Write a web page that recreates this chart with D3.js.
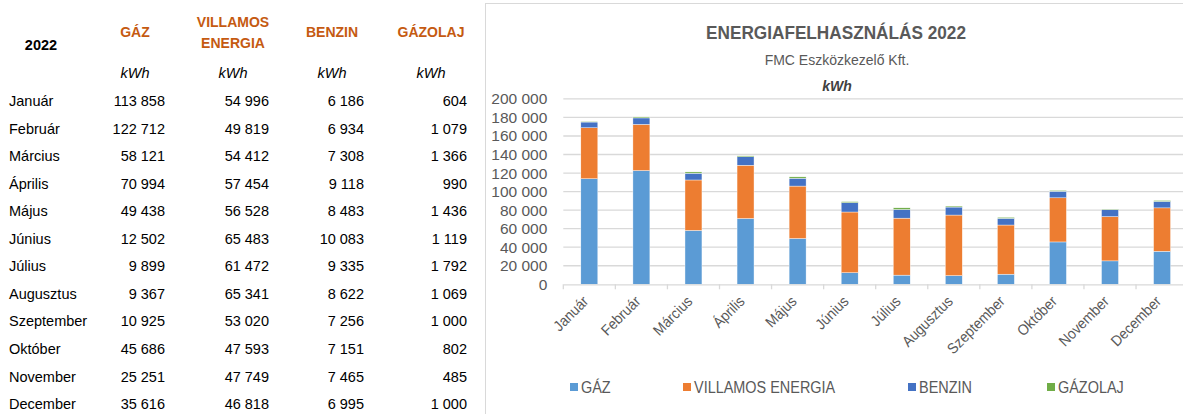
<!DOCTYPE html>
<html>
<head>
<meta charset="utf-8">
<script src="https://cdn.jsdelivr.net/npm/d3@7"></script>
<style>
  body { margin: 0; background: #fff; overflow: hidden; }
  svg { display: block; }
</style>
</head>
<body>
<div id="chart"></div>
<script>
const months = ["Január", "Február", "Március", "Április", "Május", "Június",
  "Július", "Augusztus", "Szeptember", "Október", "November", "December"];
const gaz = [113858, 122712, 58121, 70994, 49438, 12502, 9899, 9367, 10925, 45686, 25251, 35616];
const villamos = [54996, 49819, 54412, 57454, 56528, 65483, 61472, 65341, 53020, 47593, 47749, 46818];
const benzin = [6186, 6934, 7308, 9118, 8483, 10083, 9335, 8622, 7256, 7151, 7465, 6995];
const gazolaj = [604, 1079, 1366, 990, 1436, 1119, 1792, 1069, 1000, 802, 485, 1000];
const seriesNames = ["GÁZ", "VILLAMOS ENERGIA", "BENZIN", "GÁZOLAJ"];
const headerLines = [["GÁZ"], ["VILLAMOS", "ENERGIA"], ["BENZIN"], ["GÁZOLAJ"]];
const colors = ["#5B9BD5", "#ED7D31", "#4472C4", "#70AD47"];
const yTicks = [0, 20000, 40000, 60000, 80000, 100000, 120000, 140000, 160000, 180000, 200000];

const W = 1183, H = 414;
const fmt = d3.formatLocale({decimal: ",", thousands: " ", grouping: [3], currency: ["", ""]}).format(",d");
const sans = "'Liberation Sans', Arial, sans-serif";

const svg = d3.select("#chart").append("svg").attr("width", W).attr("height", H);

// ---------- table on the left ----------
const table = svg.append("g").style("font-family", sans);
const colCenter = [135, 233, 332, 431];
const colRight = [165, 269, 364, 467];
const rowY = d3.scaleLinear().domain([0, 11]).range([101, 404]);
const columns = [gaz, villamos, benzin, gazolaj];

table.append("text").attr("x", 41).attr("y", 45).attr("dy", "0.35em")
  .attr("text-anchor", "middle").attr("font-weight", "bold").attr("font-size", 14.5)
  .attr("fill", "#000").text("2022");

headerLines.forEach((lines, i) => {
  const y0 = lines.length > 1 ? 22 : 32;
  lines.forEach((l, j) => {
    table.append("text").attr("x", colCenter[i]).attr("y", y0 + j * 21).attr("dy", "0.35em")
      .attr("text-anchor", "middle").attr("font-weight", "bold").attr("font-size", 14)
      .attr("fill", "#C55A11").text(l);
  });
  table.append("text").attr("x", colCenter[i]).attr("y", 73).attr("dy", "0.35em")
    .attr("text-anchor", "middle").attr("font-style", "italic").attr("font-size", 14.5)
    .attr("fill", "#000").text("kWh");
});

months.forEach((m, r) => {
  table.append("text").attr("x", 9).attr("y", rowY(r)).attr("dy", "0.35em")
    .attr("font-size", 14.5).attr("fill", "#000").text(m);
  columns.forEach((col, c) => {
    table.append("text").attr("x", colRight[c]).attr("y", rowY(r)).attr("dy", "0.35em")
      .attr("text-anchor", "end").attr("font-size", 14.5).attr("fill", "#000").text(fmt(col[r]));
  });
});

// ---------- chart on the right ----------
const chart = svg.append("g");
chart.append("rect").attr("x", 485.5).attr("y", 3.5).attr("width", 720).attr("height", 440)
  .attr("fill", "#fff").attr("stroke", "#d9d9d9").attr("stroke-width", 1);

const x = d3.scaleBand().domain(months).range([563.3, 1188.1]).paddingInner(0.674).paddingOuter(0.337);
const y = d3.scaleLinear().domain([0, 200000]).range([284.3, 98.9]);

const textCol = "#595959";
// condensed text (no narrow font installed, so squeeze horizontally)
function narrowText(g, tx, ty, size, sx, anchor, str) {
  return g.append("text").attr("transform", `translate(${tx},${ty}) scale(${sx},1)`)
    .attr("dy", "0.35em").attr("text-anchor", anchor).style("font-family", sans)
    .attr("font-size", size).attr("fill", textCol).text(str);
}
narrowText(chart, 836, 33, 18.5, 0.93, "middle", "ENERGIAFELHASZNÁLÁS 2022").attr("font-weight", "bold");
narrowText(chart, 837, 60, 14, 1, "middle", "FMC Eszközkezelő Kft.");
chart.append("text").attr("x", 837).attr("y", 86).attr("dy", "0.35em").attr("text-anchor", "middle")
  .style("font-family", sans).attr("font-size", 14).attr("font-weight", "bold").attr("font-style", "italic")
  .attr("fill", "#404040").text("kWh");

// gridlines
chart.append("g").selectAll("line").data(yTicks.slice(1)).join("line")
  .attr("x1", 563.3).attr("x2", 1200).attr("y1", d => y(d)).attr("y2", d => y(d))
  .attr("stroke", "#d9d9d9").attr("stroke-width", 1.3);

// y axis labels
const yAxis = chart.append("g").attr("transform", "translate(563.3,0)")
  .call(d3.axisLeft(y).tickValues(yTicks).tickFormat(fmt).tickSize(0).tickPadding(16));
yAxis.select(".domain").remove();
yAxis.selectAll("text").style("font-family", sans).attr("font-size", 15.5).attr("fill", textCol);

// stacked bars
const rows = months.map((m, i) => ({month: m, s0: gaz[i], s1: villamos[i], s2: benzin[i], s3: gazolaj[i]}));
const stack = d3.stack().keys(["s0", "s1", "s2", "s3"])(rows);
chart.append("g").selectAll("g").data(stack).join("g").attr("fill", (d, i) => colors[i])
  .selectAll("rect").data(d => d).join("rect")
  .attr("x", d => x(d.data.month)).attr("width", x.bandwidth())
  .attr("y", d => y(d[1])).attr("height", d => y(d[0]) - y(d[1]))
  .attr("stroke", "#fff").attr("stroke-width", 0.4);

// x axis: baseline + ticks at category boundaries
const xAxis = chart.append("g").attr("transform", `translate(0,${y(0)})`)
  .call(d3.axisBottom(x).tickSize(0).tickFormat(""));
xAxis.select(".domain").attr("stroke", "#d9d9d9").attr("stroke-width", 1.3);
chart.append("g").selectAll("line").data(d3.range(months.length + 1)).join("line")
  .attr("x1", i => 563.3 + i * x.step()).attr("x2", i => 563.3 + i * x.step())
  .attr("y1", y(0)).attr("y2", y(0) + 5).attr("stroke", "#d9d9d9").attr("stroke-width", 1.3);

chart.append("g").selectAll("text").data(months).join("text")
  .attr("transform", d => `translate(${x(d) + x.bandwidth() / 2},${y(0) + 18}) rotate(-45) scale(0.92,1)`)
  .attr("text-anchor", "end").style("font-family", sans).attr("font-size", 15)
  .attr("fill", textCol).text(d => d);

// legend
const legX = [570, 683, 908, 1047];
const leg = chart.append("g").selectAll("g").data(seriesNames).join("g")
  .attr("transform", (d, i) => `translate(${legX[i]},387)`);
leg.append("rect").attr("x", 0).attr("y", -4).attr("width", 8).attr("height", 8).attr("fill", (d, i) => colors[i]);
leg.each(function (d) { narrowText(d3.select(this), 11, 0, 17, 0.85, "start", d); });
</script>
</body>
</html>
